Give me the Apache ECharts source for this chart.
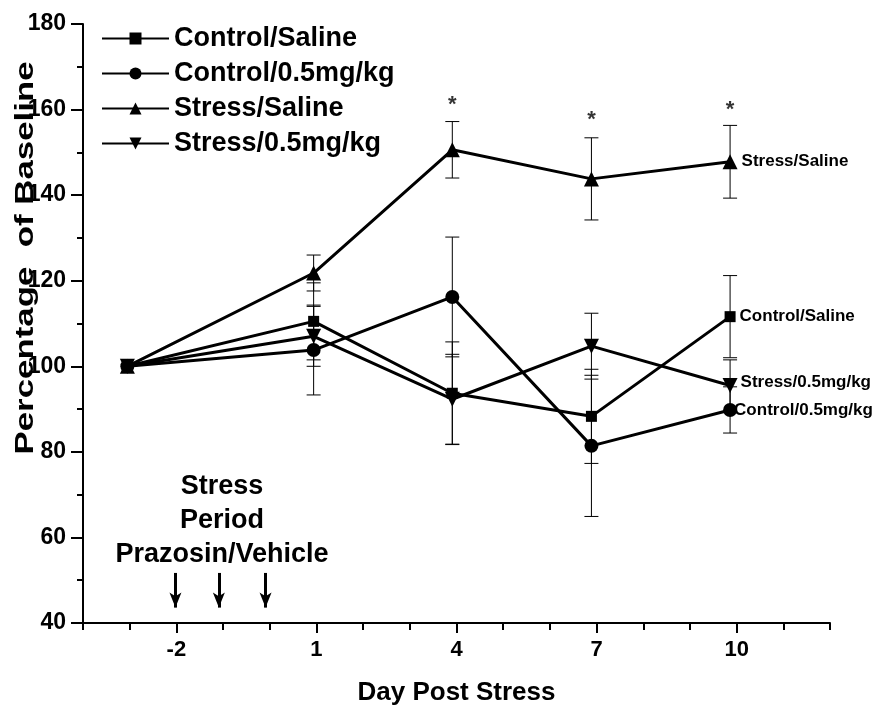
<!DOCTYPE html>
<html>
<head>
<meta charset="utf-8">
<script src="https://cdn.jsdelivr.net/npm/echarts@6/dist/echarts.min.js"></script>
<style>
  html, body { margin: 0; padding: 0; background: #fff; }
  #chart { width: 878px; height: 713px; }
</style>
</head>
<body>
<div id="chart"></div>
<script>
// data (days = plotted x positions as they sit in the original)
var days = [-3.05, 0.94, 3.91, 6.89, 9.86];
var xLabels = [-2, 1, 4, 7, 10];
var controlSaline = [100, 110.5, 93.7, 88.3, 111.6];
var controlSalineErr = [0, 9, 12, 11, 9.6];
var controlDrug = [100, 103.8, 116.2, 81.4, 89.8];
var controlDrugErr = [0, 10.5, 14, 16.5, 5.4];
var stressSaline = [100, 121.8, 150.6, 143.8, 147.8];
var stressSalineErr = [0, 4.2, 6.6, 9.6, 8.5];
var stressDrug = [100, 107, 92.3, 104.7, 95.5];
var stressDrugErr = [0, 7, 10.5, 7.7, 6];
// significance marks and injection arrows
var starDays = [3.91, 6.89, 9.86];
var starY = [161, 157.5, 160];
var arrowDays = [-2.02, -1.09, -0.09];
var arrowTop = 51.7;
var arrowBottom = 43.6;

var FONT = '"Liberation Sans", Arial, sans-serif';

function pts(vals) {
  return days.map(function (d, i) { return [d, vals[i]]; });
}
function errs(vals, e) {
  var out = [];
  days.forEach(function (d, i) {
    if (e[i] > 0) out.push([d, vals[i] - e[i], vals[i] + e[i]]);
  });
  return out;
}
function errRender(params, api) {
  var lo = api.coord([api.value(0), api.value(1)]);
  var hi = api.coord([api.value(0), api.value(2)]);
  var w = 7;
  var st = { stroke: '#000', lineWidth: 1 };
  return {
    type: 'group',
    children: [
      { type: 'line', shape: { x1: lo[0], y1: lo[1], x2: hi[0], y2: hi[1] }, style: st },
      { type: 'line', shape: { x1: lo[0] - w, y1: lo[1], x2: lo[0] + w, y2: lo[1] }, style: st },
      { type: 'line', shape: { x1: hi[0] - w, y1: hi[1], x2: hi[0] + w, y2: hi[1] }, style: st }
    ]
  };
}
function errSeries(vals, e) {
  return {
    type: 'custom',
    renderItem: errRender,
    data: errs(vals, e),
    z: 1,
    silent: true,
    encode: { x: 0, y: [1, 2] }
  };
}
function lineSeries(name, vals, symbol, size, endOffset) {
  var data = pts(vals).map(function (p, i) {
    if (i !== vals.length - 1) return p;
    return {
      value: p,
      label: {
        show: true,
        position: 'right',
        distance: 4,
        offset: endOffset,
        formatter: name,
        fontFamily: FONT,
        fontWeight: 'bold',
        fontSize: 17,
        color: '#000'
      }
    };
  });
  return {
    name: name,
    type: 'line',
    data: data,
    symbol: symbol,
    symbolSize: size,
    showAllSymbol: true,
    itemStyle: { color: '#000' },
    lineStyle: { color: '#000', width: 3 },
    z: 3
  };
}

var chart = echarts.init(document.getElementById('chart'));
chart.setOption({
  animation: false,
  backgroundColor: '#fff',
  grid: { left: 83, right: 48, top: 24, bottom: 90, outerBoundsMode: 'none' },
  legend: {
    orient: 'vertical',
    left: 96,
    top: 20,
    itemWidth: 67,
    itemHeight: 15,
    itemGap: 8,
    data: ['Control/Saline', 'Control/0.5mg/kg', 'Stress/Saline', 'Stress/0.5mg/kg'],
    textStyle: { fontFamily: FONT, fontWeight: 'bold', fontSize: 27, color: '#000' }
  },
  xAxis: [
    {
      type: 'value',
      min: -4,
      max: 12,
      interval: 1,
      name: 'Day Post Stress',
      nameLocation: 'middle',
      nameGap: 57,
      nameTextStyle: { fontFamily: FONT, fontWeight: 'bold', fontSize: 26, color: '#000' },
      axisLine: { onZero: false, lineStyle: { color: '#000', width: 2 } },
      axisTick: { length: 7, lineStyle: { color: '#000', width: 2 } },
      axisLabel: { show: false },
      splitLine: { show: false }
    },
    {
      type: 'value',
      position: 'bottom',
      min: -4,
      max: 12,
      axisLine: { show: false, onZero: false },
      axisTick: { show: true, customValues: xLabels, length: 10, lineStyle: { color: '#000', width: 2 } },
      axisLabel: {
        customValues: xLabels,
        margin: 16,
        fontFamily: FONT, fontWeight: 'bold', fontSize: 22, color: '#000'
      },
      splitLine: { show: false }
    }
  ],
  yAxis: {
    type: 'value',
    min: 40,
    max: 180,
    interval: 20,
    axisLine: { show: true, onZero: false, lineStyle: { color: '#000', width: 2 } },
    axisTick: { show: true, length: 12, lineStyle: { color: '#000', width: 2 } },
    minorTick: { show: true, splitNumber: 2, length: 6, lineStyle: { color: '#000', width: 2 } },
    axisLabel: { margin: 17, fontFamily: FONT, fontWeight: 'bold', fontSize: 23, color: '#000' },
    splitLine: { show: false }
  },
  graphic: [
    {
      type: 'text',
      x: 26, y: 258,
      rotation: Math.PI / 2,
      scaleX: 1.34,
      style: {
        text: 'Percentage  of Baseline',
        font: 'bold 26px ' + FONT,
        fill: '#000',
        textAlign: 'center',
        textVerticalAlign: 'middle'
      }
    },
    {
      type: 'text',
      x: 222, y: 470,
      style: {
        text: 'Stress\nPeriod\nPrazosin/Vehicle',
        font: 'bold 27px ' + FONT,
        lineHeight: 34,
        fill: '#000',
        textAlign: 'center'
      }
    }
  ],
  series: [
    errSeries(controlSaline, controlSalineErr),
    errSeries(controlDrug, controlDrugErr),
    errSeries(stressSaline, stressSalineErr),
    errSeries(stressDrug, stressDrugErr),
    lineSeries('Control/Saline', controlSaline, 'rect', 11, [0, 0]),
    lineSeries('Control/0.5mg/kg', controlDrug, 'circle', 14, [-7, 0]),
    lineSeries('Stress/Saline', stressSaline, 'triangle', 15, [0, 0]),
    lineSeries('Stress/0.5mg/kg', stressDrug, 'path://M0,0 L10,0 L5,10 Z', 15, [-1, -3]),
    {
      type: 'scatter',
      data: starDays.map(function (d, i) { return [d, starY[i]]; }),
      symbolSize: 1,
      itemStyle: { color: 'transparent' },
      label: {
        show: true,
        position: 'inside',
        formatter: '*',
        fontFamily: FONT, fontWeight: 'bold', fontSize: 22, color: '#000'
      },
      silent: true
    },
    {
      type: 'line',
      data: [],
      silent: true,
      markLine: {
        silent: true,
        symbol: ['none', 'arrow'],
        symbolSize: [9, 15],
        label: { show: false },
        lineStyle: { color: '#000', width: 3, type: 'solid' },
        data: arrowDays.map(function (d) {
          return [{ coord: [d, arrowTop] }, { coord: [d, arrowBottom] }];
        })
      }
    }
  ]
});
</script>
</body>
</html>
